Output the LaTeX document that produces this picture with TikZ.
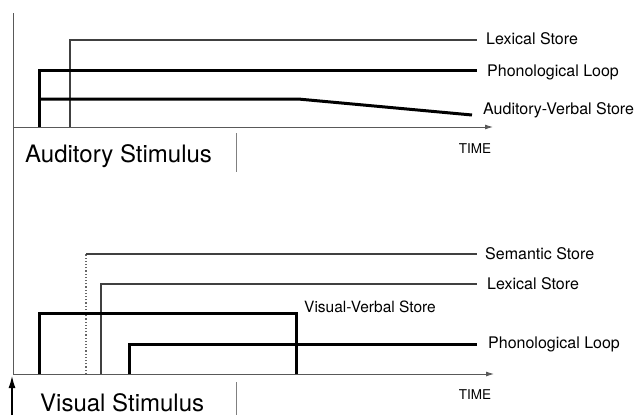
\documentclass[tikz,border=0pt]{standalone}
\usepackage{fontspec}
\setmainfont{TeX Gyre Heros}
\usetikzlibrary{arrows.meta}
\tikzset{
  axisline/.style={draw=black!65, line width=0.9pt},
  timearrow/.style={axisline, -{Latex[length=8pt,width=5pt]}},
  thinline/.style={draw=black!75, line width=1.2pt},
  thickline/.style={draw=black, line width=3pt, line join=miter},
  dotline/.style={draw=black!60, line width=1.2pt, dotted},
  storelabel/.style={anchor=west, inner sep=0pt, font=\fontsize{16}{19}\selectfont},
  smalllabel/.style={inner sep=0pt, font=\fontsize{13.5}{16}\selectfont},
  stimlabel/.style={anchor=west, inner sep=0pt, font=\fontsize{24}{28}\selectfont},
  sepline/.style={draw=black!50, line width=0.9pt}
}
\begin{document}
\begin{tikzpicture}[x=1pt,y=-1pt]
\useasboundingbox (0,0) rectangle (644,415);
% ---------- axes ----------
\coordinate (vtop) at (13,13);
\coordinate (vbot) at (13,374);
\coordinate (ta0) at (13,127);
\coordinate (ta1) at (493,127);
\coordinate (ba0) at (13,374);
\coordinate (ba1) at (494,374);
\draw[axisline] (vtop) -- (vbot);
\draw[timearrow] (ta0) -- (ta1);
\draw[timearrow] (ba0) -- (ba1);
\node[smalllabel] (time1) at (475,149) {TIME};
\node[smalllabel] (time2) at (475,395) {TIME};
\coordinate (stimA) at (12,415);
\coordinate (stimB) at (12,376);
\draw[draw=black, line width=1.2pt, -{Latex[length=12pt,width=7pt]}] (stimA) -- (stimB);
% ---------- stimulus labels ----------
\node[stimlabel] (aud) at (25,156) {Auditory Stimulus};
\node[stimlabel] (vis) at (40,402.5) {Visual Stimulus};
\coordinate (s1a) at (236,133); \coordinate (s1b) at (236,172);
\coordinate (s2a) at (236,382); \coordinate (s2b) at (236,415);
\draw[sepline] (s1a) -- (s1b);
\draw[sepline] (s2a) -- (s2b);
% ---------- auditory panel ----------
\node[storelabel] (tlex) at (486,39) {Lexical Store};
\node[storelabel] (tpho) at (487,72) {Phonological Loop};
\node[storelabel] (tav) at (483,110) {Auditory-Verbal Store};
\coordinate (tlex0) at (70,127); \coordinate (tlex1) at (70,40); \coordinate (tlex2) at (477,40);
\draw[thinline] (tlex0) -- (tlex1) -- (tlex2);
\coordinate (tpho0) at (39,127); \coordinate (tpho1) at (39,70); \coordinate (tpho2) at (477,70);
\draw[thickline] (tpho0) -- (tpho1) -- (tpho2);
\coordinate (tav0) at (39,99); \coordinate (tav1) at (298,99); \coordinate (tav2) at (472,115);
\draw[thickline] (tav0) -- (tav1) -- (tav2);
% ---------- visual panel ----------
\node[storelabel] (bsem) at (485,254) {Semantic Store};
\node[storelabel] (blex) at (487,284) {Lexical Store};
\node[storelabel, font=\fontsize{15.5}{18}\selectfont] (bvv) at (304,307) {Visual-Verbal Store};
\node[storelabel] (bpho) at (488,344) {Phonological Loop};
\coordinate (bsem0) at (86,374); \coordinate (bsem1) at (86,254); \coordinate (bsem2) at (477,254);
\draw[dotline] (bsem0) -- (bsem1);
\draw[thinline] (bsem1) -- (bsem2);
\coordinate (blex0) at (101,374); \coordinate (blex1) at (101,284); \coordinate (blex2) at (477,284);
\draw[thinline] (blex0) -- (blex1) -- (blex2);
\coordinate (bvv0) at (39,374); \coordinate (bvv1) at (39,313); \coordinate (bvv2) at (296,313); \coordinate (bvv3) at (296,374);
\draw[thickline] (bvv0) -- (bvv1) -- (bvv2) -- (bvv3);
\coordinate (bpho0) at (129,374); \coordinate (bpho1) at (129,344); \coordinate (bpho2) at (477,344);
\draw[thickline] (bpho0) -- (bpho1) -- (bpho2);
\end{tikzpicture}
\end{document}
